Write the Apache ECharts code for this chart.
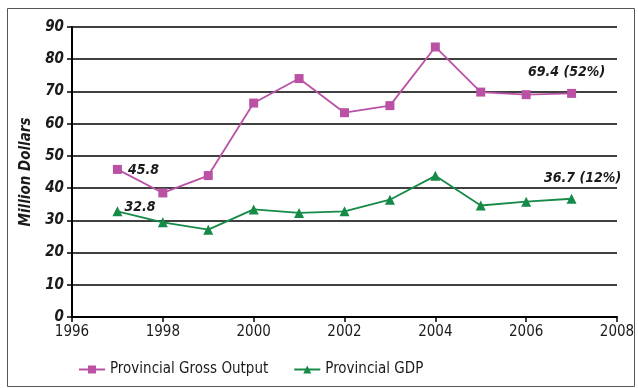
<!DOCTYPE html>
<html>
<head>
<meta charset="utf-8">
<script src="https://cdn.jsdelivr.net/npm/echarts@6/dist/echarts.min.js"></script>
<style>
  html, body { margin: 0; padding: 0; background: #fff; }
  #chart { width: 638px; height: 388px; }
</style>
</head>
<body>
<div id="chart"></div>
<script>
// Years on the x axis
const years = [1997, 1998, 1999, 2000, 2001, 2002, 2003, 2004, 2005, 2006, 2007];
// Provincial Gross Output, million dollars
const grossOutput = [45.8, 38.5, 43.9, 66.4, 74.0, 63.4, 65.6, 83.8, 69.8, 69.0, 69.4];
// Provincial GDP, million dollars
const gdp = [32.8, 29.4, 27.1, 33.4, 32.3, 32.8, 36.4, 43.8, 34.6, 35.8, 36.7];
// Annotated points: index into the series and the text shown
const grossNotes = { 0: '45.8', 10: '69.4 (52%)' };
const gdpNotes = { 0: '32.8', 10: '36.7 (12%)' };

const FONT = '"DejaVu Sans Condensed", "Liberation Sans Narrow", sans-serif';
const MAGENTA = '#BA51A4';
const GREEN = '#168A47';

function pairs(vals) {
  return years.map((y, i) => [y, vals[i]]);
}

const noteStyle = {
  fontFamily: FONT, fontSize: 14, fontWeight: 'bold', fontStyle: 'italic', color: '#1a1a1a'
};

function grossData() {
  return pairs(grossOutput).map((p, i) => {
    const d = { value: p };
    if (i === 0) d.label = Object.assign({ show: true, position: 'right', distance: 6, formatter: grossNotes[0], offset: [0, 1] }, noteStyle);
    if (i === 10) d.label = Object.assign({ show: true, position: 'top', distance: 6, formatter: grossNotes[10], offset: [-5, -4] }, noteStyle);
    return d;
  });
}
function gdpData() {
  return pairs(gdp).map((p, i) => {
    const d = { value: p };
    if (i === 0) d.label = Object.assign({ show: true, position: 'right', distance: 2, formatter: gdpNotes[0], offset: [0, -4] }, noteStyle);
    if (i === 10) d.label = Object.assign({ show: true, position: 'top', distance: 6, formatter: gdpNotes[10], offset: [11, -2] }, noteStyle);
    return d;
  });
}

const chart = echarts.init(document.getElementById('chart'), null, { renderer: 'canvas' });
chart.setOption({
  animation: false,
  backgroundColor: '#fff',
  graphic: [{
    type: 'rect', left: 5, top: 6, z: -1,
    shape: { width: 627, height: 378 },
    style: { fill: 'none', stroke: '#555', lineWidth: 1 }
  }],
  grid: { left: 72, right: 21, top: 27, bottom: 71, containLabel: false },
  legend: {
    bottom: 6, left: 73, itemGap: 25, itemWidth: 26, itemHeight: 10,
    textStyle: { fontFamily: FONT, fontSize: 15, color: '#1a1a1a' },
    data: ['Provincial Gross Output', 'Provincial GDP']
  },
  xAxis: {
    type: 'value', min: 1996, max: 2008, interval: 2,
    axisLine: { show: true, onZero: false, lineStyle: { color: '#000', width: 2 } },
    axisTick: { show: true, length: 5, lineStyle: { color: '#000', width: 1.5 } },
    axisLabel: { fontFamily: FONT, fontSize: 15, color: '#1a1a1a', margin: 8, formatter: v => String(v) },
    splitLine: { show: false }
  },
  yAxis: {
    type: 'value', min: 0, max: 90, interval: 10,
    name: 'Million Dollars', nameLocation: 'middle', nameGap: 38, nameRotate: 90,
    nameTextStyle: { fontFamily: FONT, fontSize: 15, fontWeight: 'bold', fontStyle: 'italic', color: '#1a1a1a' },
    axisLine: { show: true, lineStyle: { color: '#000', width: 2 } },
    axisTick: { show: true, length: 5, lineStyle: { color: '#000', width: 1.5 } },
    axisLabel: { fontFamily: FONT, fontSize: 15, fontWeight: 'bold', fontStyle: 'italic', color: '#1a1a1a', margin: 8 },
    splitLine: { show: true, lineStyle: { color: '#000', width: 1.5 } }
  },
  series: [
    {
      name: 'Provincial Gross Output', type: 'line', data: grossData(),
      symbol: 'rect', symbolSize: 9,
      lineStyle: { color: MAGENTA, width: 1.8 },
      itemStyle: { color: MAGENTA },
      z: 3
    },
    {
      name: 'Provincial GDP', type: 'line', data: gdpData(),
      symbol: 'triangle', symbolSize: 10,
      lineStyle: { color: GREEN, width: 1.8 },
      itemStyle: { color: GREEN },
      z: 3
    }
  ]
});
</script>
</body>
</html>
